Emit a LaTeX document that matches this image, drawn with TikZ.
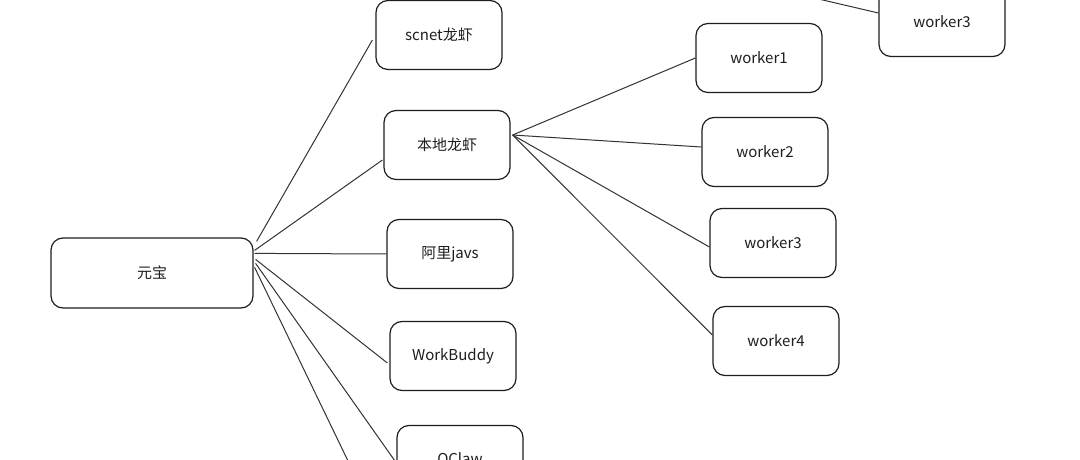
\documentclass[tikz,border=0pt]{standalone}
\usepackage{fontspec}
\setmainfont{Noto Sans CJK SC}
\definecolor{ink}{HTML}{1E1E1E}
\definecolor{edge}{HTML}{333333}
\tikzset{
  box/.style={draw=ink, line width=1.2pt, rounded corners=12pt, minimum width=126pt, minimum height=69pt, inner sep=0pt, font=\fontsize{15}{18}\selectfont, text=ink, fill=white},
  link/.style={draw=edge, line width=1pt},
}
\begin{document}
\begin{tikzpicture}[x=1pt,y=-1pt]
\clip (0,0) rectangle (1080,460);
\fill[white] (0,0) rectangle (1080,460);
\node[box, minimum width=202pt, minimum height=70pt] (yb) at (152,273) {元宝};
\node[box] (sc) at (439,35) {scnet龙虾};
\node[box] (bd) at (447,145) {本地龙虾};
\node[box] (aj) at (450,254) {阿里javs};
\node[box] (wb) at (453,356) {WorkBuddy};
\node[box] (qc) at (460,460) {QClaw};
\node[box] (w1) at (759,58) {worker1};
\node[box] (w2) at (765,152) {worker2};
\node[box] (w3) at (773,243) {worker3};
\node[box] (w4) at (776,341) {worker4};
\node[box] (tw) at (942,22) {worker3};
\coordinate (offb) at (363,492);
\coordinate (offt) at (780,-10);
\path[link] ([shift={(3,4)}]yb.north east) -- ([shift={(-3,5)}]sc.west);
\path[link] ([shift={(1,13)}]yb.north east) -- ([shift={(-1,15)}]bd.west);
\path[link] ([shift={(1,16)}]yb.north east) -- (aj.west);
\path[link] ([shift={(2,22)}]yb.north east) -- ([shift={(-2,7)}]wb.west);
\path[link] ([shift={(2,26)}]yb.north east) -- ([shift={(0,3)}]qc.west);
\path[link] ([shift={(1,30)}]yb.north east) -- (offb);
\path[link] ([shift={(2,-10)}]bd.east) -- (w1.west);
\path[link] ([shift={(2,-10)}]bd.east) -- ([shift={(0,-5)}]w2.west);
\path[link] ([shift={(2,-10)}]bd.east) -- ([shift={(0,4)}]w3.west);
\path[link] ([shift={(2,-10)}]bd.east) -- ([shift={(0,-6)}]w4.west);
\path[link] (offt) -- ([shift={(0,-9)}]tw.west);
\end{tikzpicture}
\end{document}
